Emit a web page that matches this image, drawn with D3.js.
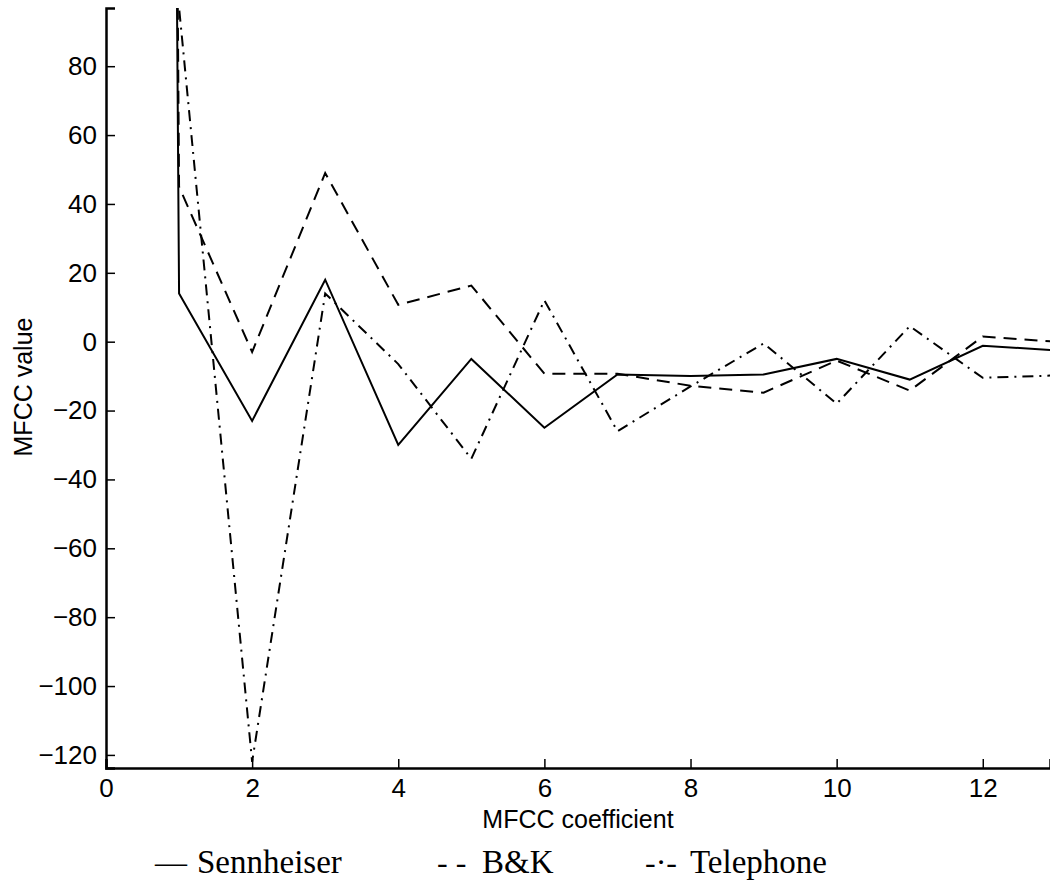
<!DOCTYPE html>
<html>
<head>
<meta charset="utf-8">
<script src="https://cdn.jsdelivr.net/npm/d3@7"></script>
<style>
  body { margin: 0; background: white; }
</style>
</head>
<body>
<svg class="chart" width="1050" height="880"></svg>
<script>
// MFCC coefficient index (0 is the energy term, far above the plot)
var coeffs = [0, 1, 2, 3, 4, 5, 6, 7, 8, 9, 10, 11, 12, 13];

var sennheiser = [3000, 14, -23, 18, -30, -5, -25, -9.5, -10, -9.5, -5, -11, -1.2, -2.5];
var bk = [3000, 45, -3, 49, 10.7, 16.3, -9.3, -9.3, -12.8, -14.8, -5.5, -14.2, 1.5, 0];
var telephone = [3000, 97, -122, 14, -6.5, -34, 12, -26, -13, -0.5, -18, 4.5, -10.5, -9.8];

var xTicks = [0, 2, 4, 6, 8, 10, 12];
var yTicks = [-120, -100, -80, -60, -40, -20, 0, 20, 40, 60, 80];

var legendNames = ["Sennheiser", "B&K", "Telephone"];
var legendMarks = ["\u2014", "- -", "-\u00b7-"];

window.onload = function(){

    var svg = d3.select(".chart");

    var left = 106, right = 1050, top = 8, bottom = 768;

    var x = d3.scaleLinear()
        .domain([0, 12.92])
        .range([left, right]);

    var y = d3.scaleLinear()
        .domain([-123.8, 96.9])
        .range([bottom, top]);

    svg.append("clipPath")
        .attr("id", "plotclip")
        .append("rect")
        .attr("x", left)
        .attr("y", top)
        .attr("width", right - left)
        .attr("height", bottom - top);

    var line = d3.line()
        .x(function (d) { return x(d.x); })
        .y(function (d) { return y(d.y); });

    var series = [
        { values: sennheiser, dash: null },
        { values: bk, dash: "13,8" },
        { values: telephone, dash: "11,6,2,6" }
    ];

    var plot = svg.append("g").attr("clip-path", "url(#plotclip)");

    series.forEach(function (s) {
        var pts = coeffs.map(function (c, i) { return { x: c, y: s.values[i] }; });
        plot.append("path")
            .datum(pts)
            .attr("d", line)
            .attr("fill", "none")
            .attr("stroke", "black")
            .attr("stroke-width", 2)
            .attr("stroke-linejoin", "miter")
            .attr("stroke-dasharray", s.dash);
    });

    // axes, ticks pointing inwards
    var xAxis = svg.append("g")
        .attr("transform", "translate(0," + bottom + ")")
        .call(d3.axisBottom(x).tickValues(xTicks).tickSize(-9).tickPadding(11).tickFormat(d3.format("d")));

    var yAxis = svg.append("g")
        .attr("transform", "translate(" + left + ",0)")
        .call(d3.axisLeft(y).tickValues(yTicks).tickSize(-9).tickPadding(9).tickFormat(d3.format("d")));

    [xAxis, yAxis].forEach(function (a) {
        a.select(".domain").attr("stroke-width", 2.5);
        a.selectAll(".tick line").attr("stroke-width", 1.5);
        a.selectAll("text")
            .attr("font-family", "'Liberation Sans', Arial, sans-serif")
            .attr("font-size", "26px")
            .attr("fill", "black");
    });

    svg.append("text")
        .attr("x", 578)
        .attr("y", 828)
        .attr("text-anchor", "middle")
        .attr("font-family", "'Liberation Sans', Arial, sans-serif")
        .attr("font-size", "25px")
        .text("MFCC coefficient");

    svg.append("text")
        .attr("transform", "translate(32,387) rotate(-90)")
        .attr("text-anchor", "middle")
        .attr("font-family", "'Liberation Sans', Arial, sans-serif")
        .attr("font-size", "25px")
        .text("MFCC value");

    // legend set in a serif face like the caption
    var legendX = [155, 437, 645];
    var nameX = [197, 482, 690];
    legendNames.forEach(function (n, i) {
        svg.append("text")
            .attr("x", legendX[i])
            .attr("y", 873)
            .attr("font-family", "'Liberation Serif', 'Times New Roman', serif")
            .attr("font-size", "32px")
            .text(legendMarks[i]);
        svg.append("text")
            .attr("x", nameX[i])
            .attr("y", 873)
            .attr("font-family", "'Liberation Serif', 'Times New Roman', serif")
            .attr("font-size", "33px")
            .text(n);
    });
}
</script>
</body>
</html>
